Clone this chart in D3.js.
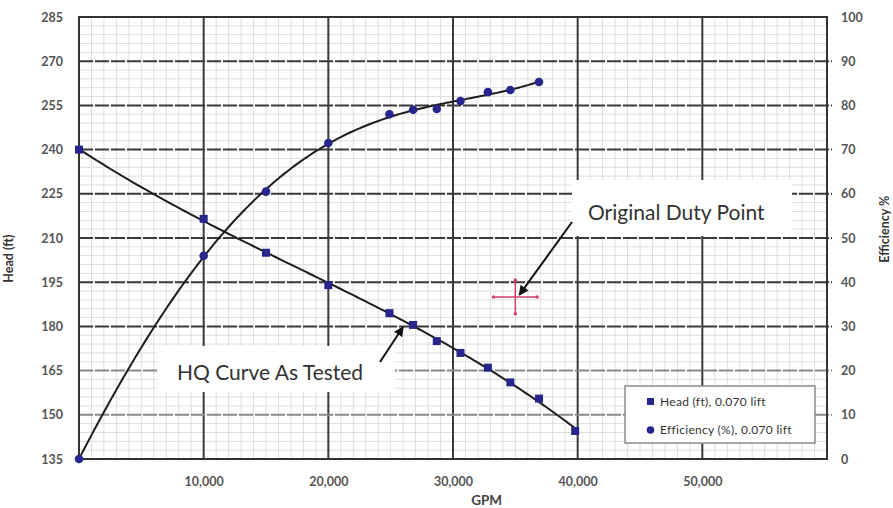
<!DOCTYPE html>
<html>
<head>
<meta charset="utf-8">
<script src="https://cdn.jsdelivr.net/npm/d3@7"></script>
<style>
  body { margin: 0; background: #fff; }
  text { font-family: Lato, 'Open Sans', sans-serif; }
</style>
</head>
<body>
<div id="chart"></div>
<script>
// data
const gpm = [0, 10000, 15000, 20000, 24900, 26800, 28700, 30600, 32800, 34600, 36900, 39800];
const head = [240, 216.5, 205, 194, 184.5, 180.5, 175, 171, 166, 161, 155.5, 144.5];
const effGpm = [0, 10000, 15000, 20000, 24900, 26800, 28700, 30600, 32800, 34600, 36900];
const efficiency = [0, 46, 60.5, 71.5, 78, 79, 79.2, 81, 83, 83.5, 85.3];
const dutyPoint = { gpm: 35000, head: 190 };
const gpmTicks = [10000, 20000, 30000, 40000, 50000];
const headTicks = [135, 150, 165, 180, 195, 210, 225, 240, 255, 270, 285];
const effTicks = [0, 10, 20, 30, 40, 50, 60, 70, 80, 90, 100];
const legendLabels = ['Head (ft), 0.070 lift', 'Efficiency (%), 0.070 lift'];

const width = 893, height = 508;
const margin = { left: 79, right: 66, top: 17, bottom: 49 };
const markColor = '#26268c';

const svg = d3.select('#chart').append('svg')
  .attr('width', width)
  .attr('height', height);

const x = d3.scaleLinear().domain([0, 60000]).range([margin.left, width - margin.right]);
const yHead = d3.scaleLinear().domain([135, 285]).range([height - margin.bottom, margin.top]);
const yEff = d3.scaleLinear().domain([0, 100]).range([height - margin.bottom, margin.top]);

// minor grid
const grid = svg.append('g');
grid.selectAll('.minor-x')
  .data(d3.range(1000, 60000, 1000))
  .enter().append('line')
  .attr('x1', d => x(d)).attr('x2', d => x(d))
  .attr('y1', yHead(135)).attr('y2', yHead(285))
  .attr('stroke', '#dedede').attr('stroke-width', 1);
grid.selectAll('.minor-y')
  .data(d3.range(138, 285, 3))
  .enter().append('line')
  .attr('x1', x(0)).attr('x2', x(60000))
  .attr('y1', d => yHead(d)).attr('y2', d => yHead(d))
  .attr('stroke', '#dedede').attr('stroke-width', 1);

// major grid
grid.selectAll('.major-x')
  .data(gpmTicks)
  .enter().append('line')
  .attr('x1', d => x(d)).attr('x2', d => x(d))
  .attr('y1', yHead(135)).attr('y2', yHead(285))
  .attr('stroke', '#3a3a3a').attr('stroke-width', 2);
grid.selectAll('.major-y')
  .data(headTicks.slice(1, -1))
  .enter().append('line')
  .attr('x1', x(0)).attr('x2', x(60000) + 5)
  .attr('y1', d => yHead(d)).attr('y2', d => yHead(d))
  .attr('stroke', d => (d === 150 || d === 165) ? '#8a8a8a' : '#3a3a3a')
  .attr('stroke-width', 2)
  .attr('stroke-dasharray', '14 2');

// plot frame
svg.append('rect')
  .attr('x', x(0)).attr('y', yHead(285))
  .attr('width', x(60000) - x(0)).attr('height', yHead(135) - yHead(285))
  .attr('fill', 'none').attr('stroke', '#333').attr('stroke-width', 2);

// axes
const axisLeft = svg.append('g')
  .attr('transform', `translate(${x(0) - 10},0)`)
  .call(d3.axisLeft(yHead).tickValues(headTicks).tickSize(0).tickPadding(6));
const axisRight = svg.append('g')
  .attr('transform', `translate(${x(60000) + 8},0)`)
  .call(d3.axisRight(yEff).tickValues(effTicks).tickSize(0).tickPadding(6));
const axisBottom = svg.append('g')
  .attr('transform', `translate(0,${yHead(135) + 12})`)
  .call(d3.axisBottom(x).tickValues(gpmTicks).tickFormat(d3.format(',')).tickSize(0).tickPadding(6));
[axisLeft, axisRight, axisBottom].forEach(a => {
  a.select('.domain').remove();
  a.selectAll('text')
    .style('font-family', 'Lato')
    .style('font-size', '12.5px')
    .style('font-weight', 'bold')
    .attr('fill', '#555');
});

svg.append('text')
  .attr('transform', `translate(13,${yHead(203)}) rotate(-90)`)
  .attr('text-anchor', 'middle')
  .style('font-size', '12.5px').style('font-weight', 'bold').attr('fill', '#333')
  .text('Head (ft)');
svg.append('text')
  .attr('transform', `translate(889,${yEff(52)}) rotate(-90)`)
  .attr('text-anchor', 'middle')
  .style('font-size', '12.5px').style('font-weight', 'bold').attr('fill', '#333')
  .text('Efficiency %');
svg.append('text')
  .attr('x', x(32700)).attr('y', 505)
  .attr('text-anchor', 'middle')
  .style('font-size', '13.5px').style('font-weight', 'bold').attr('fill', '#444')
  .text('GPM');

// annotation boxes
const notes = svg.append('g');
notes.append('rect')
  .attr('x', 572).attr('y', 180).attr('width', 220).attr('height', 56)
  .attr('fill', '#fff');
notes.append('rect')
  .attr('x', 157).attr('y', 346).attr('width', 238).attr('height', 46)
  .attr('fill', '#fff');

// least squares polynomial trendline, like the spreadsheet did
function polyfit(xs, ys, order) {
  const n = order + 1;
  const m = [];
  for (let r = 0; r < n; r++) {
    const row = [];
    for (let c = 0; c < n; c++) row.push(d3.sum(xs, v => Math.pow(v, r + c)));
    row.push(d3.sum(xs, (v, i) => ys[i] * Math.pow(v, r)));
    m.push(row);
  }
  for (let c = 0; c < n; c++) {
    let p = c;
    for (let r = c + 1; r < n; r++) if (Math.abs(m[r][c]) > Math.abs(m[p][c])) p = r;
    [m[c], m[p]] = [m[p], m[c]];
    for (let r = 0; r < n; r++) {
      if (r === c) continue;
      const f = m[r][c] / m[c][c];
      for (let k = c; k <= n; k++) m[r][k] -= f * m[c][k];
    }
  }
  const coef = m.map((row, i) => row[n] / row[i]);
  return v => d3.sum(coef, (a, i) => a * Math.pow(v, i));
}
function trend(xs, ys, order) {
  const k = xs.map(v => v / 1000);
  const f = polyfit(k, ys, order);
  const lo = d3.min(xs), hi = d3.max(xs);
  return d3.range(lo, hi, 250).concat([hi]).map(v => [v, f(v / 1000)]);
}

const headLine = d3.line()
  .x(d => x(d[0])).y(d => yHead(d[1]));
const effLine = d3.line()
  .x(d => x(d[0])).y(d => yEff(d[1]));
const headData = d3.zip(gpm, head);
const effData = d3.zip(effGpm, efficiency);

svg.append('path')
  .attr('d', headLine(trend(gpm, head, 3)))
  .attr('fill', 'none').attr('stroke', '#1e1e1e').attr('stroke-width', 2);
svg.append('path')
  .attr('d', effLine(trend(effGpm, efficiency, 4)))
  .attr('fill', 'none').attr('stroke', '#1e1e1e').attr('stroke-width', 2);

svg.selectAll('.head-pt')
  .data(headData)
  .enter().append('rect')
  .attr('x', d => x(d[0]) - 4).attr('y', d => yHead(d[1]) - 4)
  .attr('width', 8).attr('height', 8)
  .attr('fill', markColor);
svg.selectAll('.eff-pt')
  .data(effData)
  .enter().append('circle')
  .attr('cx', d => x(d[0])).attr('cy', d => yEff(d[1]))
  .attr('r', 4.3)
  .attr('fill', markColor);

// duty point with +/- bars
const duty = svg.append('g').attr('stroke', '#d2416a').attr('fill', '#d2416a');
const dx = x(dutyPoint.gpm), dy = yHead(dutyPoint.head);
duty.append('line')
  .attr('x1', x(dutyPoint.gpm * 0.95)).attr('x2', x(dutyPoint.gpm * 1.05))
  .attr('y1', dy).attr('y2', dy).attr('stroke-width', 1.5);
duty.append('line')
  .attr('x1', dx).attr('x2', dx)
  .attr('y1', yHead(dutyPoint.head * 0.97)).attr('y2', yHead(dutyPoint.head * 1.03)).attr('stroke-width', 1.5);
duty.selectAll('circle')
  .data([[0.95, 1], [1.05, 1], [1, 0.97], [1, 1.03]])
  .enter().append('circle')
  .attr('cx', d => x(dutyPoint.gpm * d[0]))
  .attr('cy', d => yHead(dutyPoint.head * d[1]))
  .attr('r', 1.8).attr('stroke', 'none');

// arrows
svg.append('defs').append('marker')
  .attr('id', 'arrow')
  .attr('viewBox', '0 0 10 10')
  .attr('refX', 9).attr('refY', 5)
  .attr('markerWidth', 5).attr('markerHeight', 5)
  .attr('markerUnits', 'strokeWidth')
  .attr('orient', 'auto')
  .append('path').attr('d', 'M0,0 L10,5 L0,10 z').attr('fill', '#111');
svg.append('line')
  .attr('x1', 572).attr('y1', 222).attr('x2', dx + 4).attr('y2', dy - 2)
  .attr('stroke', '#111').attr('stroke-width', 2).attr('marker-end', 'url(#arrow)');
svg.append('line')
  .attr('x1', 380).attr('y1', 362).attr('x2', 403).attr('y2', 327)
  .attr('stroke', '#111').attr('stroke-width', 2).attr('marker-end', 'url(#arrow)');

svg.append('text')
  .attr('x', 588).attr('y', 220)
  .style('font-size', '21px').attr('fill', '#333')
  .text('Original Duty Point');
svg.append('text')
  .attr('x', 177).attr('y', 380)
  .style('font-size', '21px').attr('fill', '#333')
  .text('HQ Curve As Tested');

// legend
const legend = svg.append('g');
legend.append('rect')
  .attr('x', 625).attr('y', 386).attr('width', 190).attr('height', 57)
  .attr('fill', '#fff').attr('stroke', '#8c8c8c').attr('stroke-width', 1.5);
legend.append('rect')
  .attr('x', 647).attr('y', 398).attr('width', 7).attr('height', 7)
  .attr('fill', markColor);
legend.append('circle')
  .attr('cx', 650.5).attr('cy', 430).attr('r', 3.8)
  .attr('fill', markColor);
legend.selectAll('.leg-text')
  .data(legendLabels)
  .enter().append('text')
  .attr('x', 660).attr('y', (d, i) => 406 + i * 28)
  .style('font-size', '12px').style('letter-spacing', '0.3px').attr('fill', '#333')
  .text(d => d);
</script>
</body>
</html>
